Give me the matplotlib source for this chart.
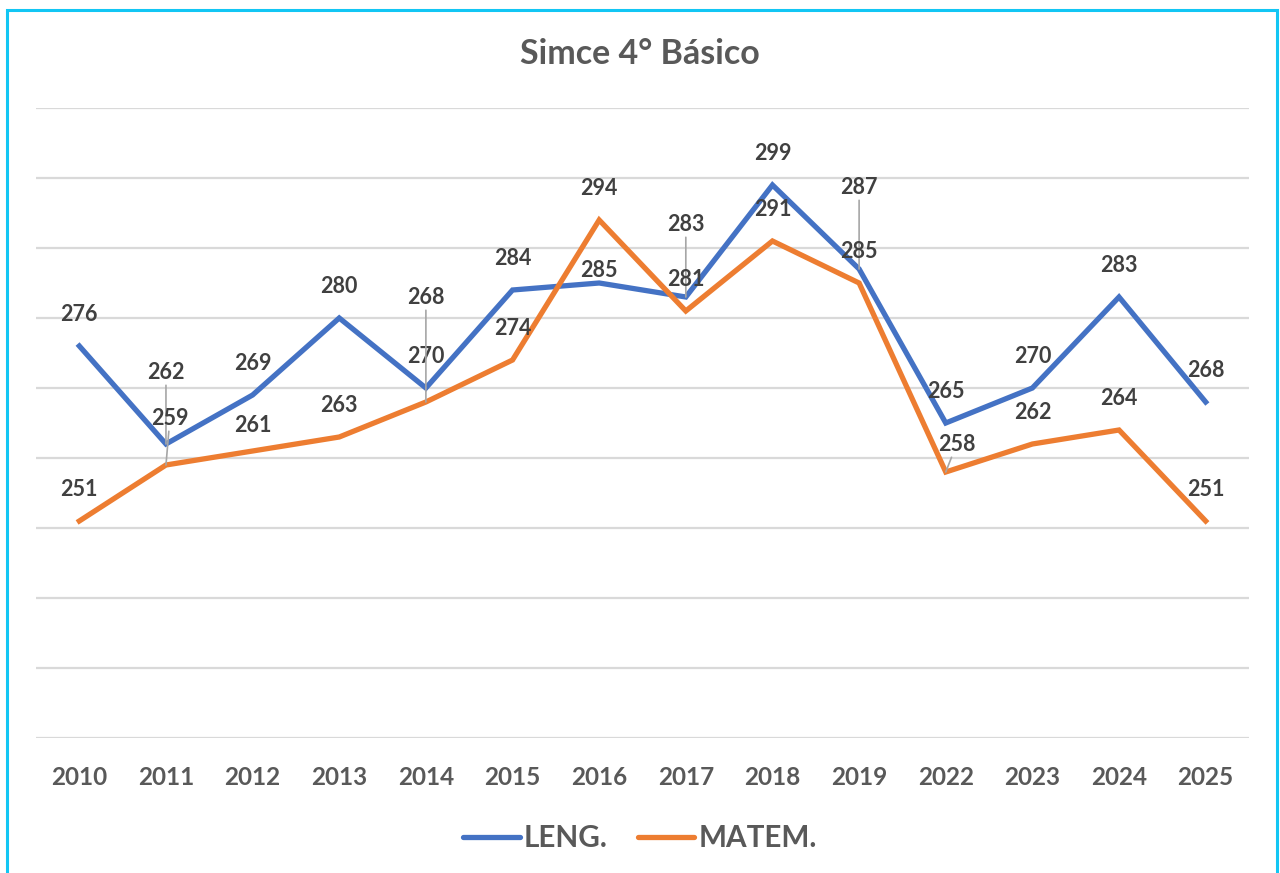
import matplotlib
matplotlib.use("Agg")
import matplotlib.pyplot as plt
from matplotlib.patches import Rectangle
import numpy as np

plt.rcParams['font.family'] = ['Lato', 'DejaVu Sans']
plt.rcParams['font.weight'] = 'bold'

years = ["2010", "2011", "2012", "2013", "2014", "2015", "2016", "2017",
         "2018", "2019", "2022", "2023", "2024", "2025"]
leng = [276, 262, 269, 280, 270, 284, 285, 283, 299, 287, 265, 270, 283, 268]
matem = [251, 259, 261, 263, 268, 274, 294, 281, 291, 285, 258, 262, 264, 251]

BLUE = '#4472C4'
ORANGE = '#ED7D31'
GRID = '#D9D9D9'
TXT = '#595959'
LBL = '#404040'

# label offsets in pixels (dx, dy up); default is straight above
default_off = (0, 32)
leng_off = {1: (0, 72), 6: (0, 13), 7: (0, 73), 9: (0, 82)}
matem_off = {1: (4, 47), 2: (0, 26), 4: (0, 105), 10: (11, 28)}
leader = {('L', 1), ('L', 7), ('L', 9), ('M', 1), ('M', 4), ('M', 10)}

W, H = 1280, 873
fig = plt.figure(figsize=(W / 100, H / 100), dpi=100)
ax = fig.add_axes([36 / W, 1 - 738 / H, (1249 - 36) / W, (738 - 108) / H])

x = np.arange(len(years))
ax.plot(x, leng, color=BLUE, lw=3.8, solid_joinstyle='miter', zorder=3, label='LENG.')
ax.plot(x, matem, color=ORANGE, lw=3.8, solid_joinstyle='miter', zorder=3, label='MATEM.')

ax.set_xlim(-0.5, len(years) - 0.5)
ax.set_ylim(220, 310)
ax.set_yticks(np.arange(220, 311, 10))
ax.yaxis.grid(True, color=GRID, lw=1.6)
ax.set_axisbelow(True)
for s in ax.spines.values():
    s.set_visible(False)
ax.tick_params(axis='y', left=False, labelleft=False)
ax.tick_params(axis='x', length=0, pad=20, labelsize=17.5, labelcolor=TXT)
ax.set_xticks(x)
ax.set_xticklabels(years, fontweight='bold')

px2pt = 72 / 100


def put_labels(vals, offs, key):
    for i, v in enumerate(vals):
        dx, dy = offs.get(i, default_off)
        kw = dict(xy=(i, v), xytext=(dx * px2pt, dy * px2pt), textcoords='offset points',
                  ha='center', va='center', fontsize=15.5, fontweight='bold',
                  color=LBL, zorder=5)
        if (key, i) in leader:
            kw['arrowprops'] = dict(arrowstyle='-', color='#A6A6A6', lw=1.2,
                                    shrinkA=0, shrinkB=0)
        ax.annotate(str(v), **kw)


put_labels(leng, leng_off, 'L')
put_labels(matem, matem_off, 'M')

fig.text(0.5, 1 - 54 / H, 'Simce 4° Básico', ha='center', va='center',
         fontsize=24.5, fontweight='bold', color=TXT)

leg = fig.legend(loc='center', bbox_to_anchor=(0.5, 1 - 838 / H), ncol=2, frameon=False,
                 handlelength=1.9, handletextpad=0.15, columnspacing=1.0,
                 prop={'size': 21.3, 'weight': 'bold'})
for t in leg.get_texts():
    t.set_color(TXT)
for h in leg.legend_handles:
    h.set_linewidth(3.8)
    h.set_solid_capstyle('round')

fig.patches.append(Rectangle((7 / W, -0.01), (1277 - 7) / W, 1 - 10 / H + 0.01,
                             transform=fig.transFigure, fill=False,
                             edgecolor='#12C6F4', lw=2.2, zorder=10))

fig.savefig('out.png', dpi=100)
